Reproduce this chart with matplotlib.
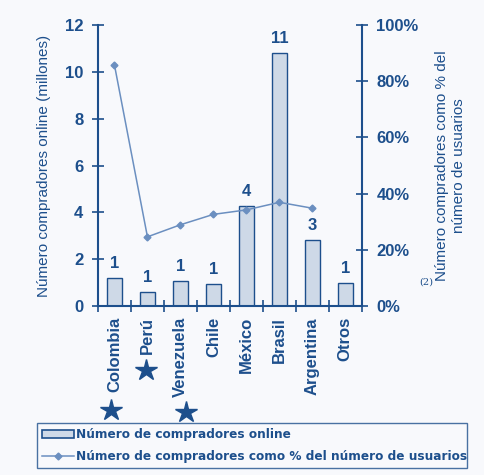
import matplotlib
matplotlib.use('Agg')
import matplotlib.pyplot as plt
from matplotlib.lines import Line2D
from matplotlib.patches import Patch
from matplotlib.ticker import FixedLocator, PercentFormatter
import matplotlib.transforms as mtransforms

# datos
paises = ['Colombia', 'Perú', 'Venezuela', 'Chile', 'México', 'Brasil', 'Argentina', 'Otros']
compradores = [1.21, 0.6, 1.08, 0.93, 4.27, 10.8, 2.82, 0.99]   # millones
etiquetas = ['1', '1', '1', '1', '4', '11', '3', '1']
pct_usuarios = [85.8, 24.6, 28.9, 32.6, 34.2, 36.9, 34.8]        # % (sin Otros)
con_estrella = ['Colombia', 'Perú', 'Venezuela']

AZUL = '#1d4f8c'
AZUL_LINEA = '#6b8fc0'
RELLENO = '#ced9e7'
FONDO = '#f8f9fc'

plt.rcParams['font.family'] = ['Liberation Sans', 'DejaVu Sans']

fig = plt.figure(figsize=(4.85, 4.75), dpi=100, facecolor=FONDO)
ax = fig.add_axes([0.202, 0.356, 0.544, 0.591])
ax.set_facecolor(FONDO)
ax2 = ax.twinx()

x = list(range(len(paises)))
ax.bar(x, compradores, width=0.45, color=RELLENO, edgecolor=AZUL, linewidth=1.0, zorder=2)
for xi, v, t in zip(x, compradores, etiquetas):
    ax.annotate(t, (xi, v), xytext=(0, 5), textcoords='offset points',
                ha='center', va='bottom', fontsize=12, fontweight='bold', color=AZUL)

ax2.plot(x[:len(pct_usuarios)], pct_usuarios, color=AZUL_LINEA, lw=1.1,
         marker='D', markersize=3.5, zorder=3)

ax.set_xlim(-0.5, len(paises) - 0.5)
ax.set_ylim(0, 12)
ax.set_yticks(range(0, 13, 2))
ax2.set_ylim(0, 100)
ax2.set_yticks(range(0, 101, 20))
ax2.yaxis.set_major_formatter(PercentFormatter(decimals=0))

# ejes
for a in (ax, ax2):
    for s in a.spines.values():
        s.set_color(AZUL)
        s.set_linewidth(1.5)
    a.spines['top'].set_visible(False)
ax.spines['right'].set_visible(False)
ax2.spines['left'].set_visible(False)
ax2.spines['bottom'].set_visible(False)

ax.tick_params(axis='y', direction='inout', length=9, width=1.2, color=AZUL,
               labelcolor=AZUL, labelsize=12, pad=6)
ax2.tick_params(axis='y', direction='inout', length=9, width=1.2, color=AZUL,
                labelcolor=AZUL, labelsize=12, pad=6)
for lab in ax.get_yticklabels() + ax2.get_yticklabels():
    lab.set_fontweight('bold')

ax.set_xticks(x)
ax.set_xticklabels(paises, rotation=90, fontsize=12, fontweight='bold', color=AZUL, va='top')
ax.tick_params(axis='x', length=0, pad=8)
ax.xaxis.set_minor_locator(FixedLocator([i - 0.5 for i in range(len(paises) + 1)]))
ax.tick_params(axis='x', which='minor', direction='inout', length=9, width=1.2, color=AZUL)

ax.set_ylabel('Número compradores online (millones)', fontsize=11, color=AZUL, labelpad=10)
ax2.set_ylabel('Número compradores como % del\nnúmero de usuarios', fontsize=11,
               color=AZUL, labelpad=12)

fig.text(0.865, 0.400, '(2)', fontsize=7, color=AZUL, family='DejaVu Serif')

# estrellas bajo las etiquetas
trans = mtransforms.blended_transform_factory(ax.transData, ax.transAxes)
pos_estrella = {'Colombia': (-0.1, -0.37), 'Perú': (-0.045, -0.228), 'Venezuela': (0.17, -0.377)}
for p in con_estrella:
    dx, yy = pos_estrella[p]
    ax.plot(paises.index(p) + dx, yy, marker='*', markersize=16,
            color=AZUL, transform=trans, clip_on=False)

# leyenda
handles = [Patch(facecolor=RELLENO, edgecolor=AZUL, linewidth=1.2),
           Line2D([], [], color=AZUL_LINEA, lw=1.1, marker='D', markersize=3.5)]
labels = ['Número de compradores online',
          'Número de compradores como % del número de usuarios']
leg = fig.legend(handles, labels, loc='lower left', bbox_to_anchor=(0.076, 0.014, 0.887, 0.098),
                 mode='expand', frameon=True, fancybox=False, handlelength=2.6,
                 handletextpad=0.2, borderpad=0.45, labelspacing=0.7, borderaxespad=0,
                 prop={'family': 'DejaVu Sans', 'weight': 'bold', 'size': 8.7})
leg.get_frame().set_edgecolor(AZUL)
leg.get_frame().set_facecolor(FONDO)
leg.get_frame().set_linewidth(1.0)
for t in leg.get_texts():
    t.set_color(AZUL)

fig.savefig('out.png', dpi=100, facecolor=FONDO)
